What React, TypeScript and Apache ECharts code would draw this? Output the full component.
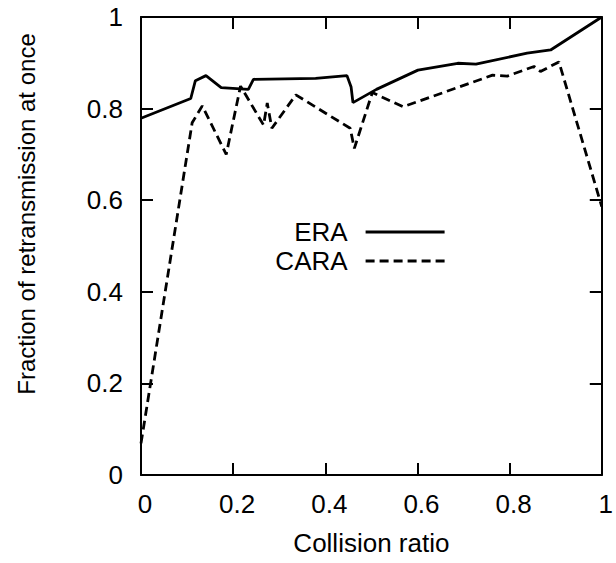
import React, { useEffect, useRef } from "react";
import * as echarts from "echarts";

const eraX = [0, 0.108, 0.118, 0.141, 0.174, 0.233, 0.244, 0.379, 0.447, 0.456, 0.46, 0.511, 0.601, 0.6875, 0.727, 0.838, 0.889, 1];
const eraY = [0.779, 0.822, 0.861, 0.872, 0.846, 0.842, 0.864, 0.866, 0.872, 0.847, 0.813, 0.842, 0.884, 0.899, 0.897, 0.921, 0.928, 1];
const caraX = [0, 0.111, 0.133, 0.185, 0.216, 0.266, 0.274, 0.284, 0.336, 0.454, 0.463, 0.502, 0.569, 0.763, 0.795, 0.853, 0.867, 0.907, 1];
const caraY = [0.069, 0.769, 0.806, 0.7, 0.849, 0.764, 0.812, 0.757, 0.83, 0.757, 0.713, 0.835, 0.804, 0.873, 0.871, 0.892, 0.881, 0.902, 0.586];
const seriesNames = ["ERA", "CARA"];
const xAxisName = "Collision ratio";
const yAxisName = "Fraction of retransmission at once";

const FONT = "'Liberation Sans', Arial, sans-serif";

export default function App() {
  const ref = useRef<HTMLDivElement>(null);
  useEffect(() => {
    document.body.style.margin = "0";
    const chart = echarts.init(ref.current!, null, { renderer: "svg" });
    const fmt = (v: number) => String(Math.round(v * 10) / 10);
    const axisCommon = {
      type: "value" as const,
      min: 0,
      max: 1,
      interval: 0.2,
      splitLine: { show: false },
      axisLine: { show: true, onZero: false, lineStyle: { color: "#000", width: 2 } },
      axisTick: { show: true, inside: true, length: 12, lineStyle: { color: "#000", width: 2 } },
    };
    const legendCommon = {
      right: 170,
      padding: 0,
      align: "right" as const,
      itemWidth: 79,
      itemHeight: 26,
      itemStyle: { opacity: 0 },
      lineStyle: { width: 2.8 },
      textStyle: { fontFamily: FONT, fontSize: 26, color: "#000", padding: [0, 13, 0, 0] },
    };
    chart.setOption({
      animation: false,
      backgroundColor: "#fff",
      grid: { left: 141, right: 11, top: 17, bottom: 88, containLabel: false },
      legend: [
        { ...legendCommon, data: [seriesNames[0]], top: 219 },
        { ...legendCommon, data: [seriesNames[1]], top: 248 },
      ],
      xAxis: [
        {
          ...axisCommon,
          position: "bottom",
          name: xAxisName,
          nameLocation: "middle",
          nameGap: 55,
          nameTextStyle: { fontFamily: FONT, fontSize: 26, color: "#000" },
          axisLabel: {
            fontFamily: FONT,
            fontSize: 26,
            color: "#000",
            margin: 16,
            padding: [0, 0, 0, 8],
            formatter: fmt,
          },
        },
        {
          ...axisCommon,
          position: "top",
          axisLabel: { show: false },
        },
      ],
      yAxis: [
        {
          ...axisCommon,
          position: "left",
          name: yAxisName,
          nameLocation: "middle",
          nameGap: 103,
          nameTextStyle: { fontFamily: FONT, fontSize: 24, color: "#000", padding: [0, 0, 0, 64] },
          axisLabel: {
            fontFamily: FONT,
            fontSize: 26,
            color: "#000",
            margin: 18,
            padding: [2, 0, 0, 0],
            formatter: fmt,
          },
        },
        {
          ...axisCommon,
          position: "right",
          axisLabel: { show: false },
        },
      ],
      series: [
        {
          name: seriesNames[0],
          type: "line",
          xAxisIndex: 0,
          yAxisIndex: 0,
          data: eraX.map((x, i) => [x, eraY[i]]),
          symbol: "none",
          lineStyle: { color: "#000", width: 2.8, type: "solid" },
          itemStyle: { color: "#000" },
        },
        {
          name: seriesNames[1],
          type: "line",
          xAxisIndex: 0,
          yAxisIndex: 0,
          data: caraX.map((x, i) => [x, caraY[i]]),
          symbol: "none",
          lineStyle: { color: "#000", width: 2.8, type: [9, 5] },
          itemStyle: { color: "#000" },
        },
      ],
    });
    return () => chart.dispose();
  }, []);
  return <div ref={ref} style={{ width: 616, height: 563 }} />;
}
